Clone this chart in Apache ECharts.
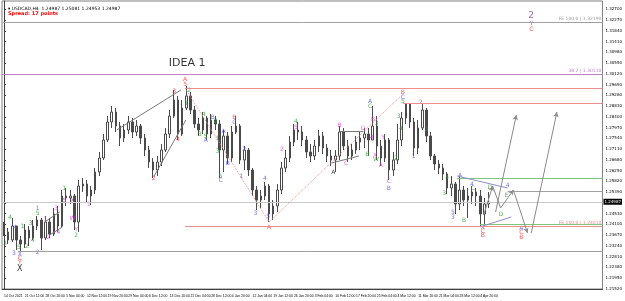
<!DOCTYPE html>
<html>
<head>
<meta charset="utf-8">
<script src="https://cdn.jsdelivr.net/npm/echarts@6/dist/echarts.min.js"></script>
<style>
html, body { margin: 0; padding: 0; background: #fff; }
#chart { width: 625px; height: 301px; }
</style>
</head>
<body>
<div id="chart"></div>
<script>
// USDCAD H4, each candle here stands in for a block of ~8 H4 bars
var xLabels = ['14 Oct 2021', '21 Oct 12:00', '28 Oct 20:00', '5 Nov 04:00', '12 Nov 12:00', '19 Nov 20:00',
  '29 Nov 04:00', '6 Dec 12:00', '13 Dec 20:00', '21 Dec 04:00', '28 Dec 12:00', '4 Jan 20:00',
  '12 Jan 04:00', '19 Jan 12:00', '26 Jan 20:00', '3 Feb 04:00', '10 Feb 12:00', '17 Feb 20:00',
  '25 Feb 04:00', '4 Mar 12:00', '11 Mar 20:00', '21 Mar 04:00', '28 Mar 12:00', '4 Apr 20:00']
var barsPerLabel = 5
var slotCount = 145

var opens = [1.2395, 1.2379, 1.2347, 1.2403, 1.2347, 1.2331, 1.2387, 1.2355, 1.2403, 1.2427,
  1.2355, 1.2419, 1.2371, 1.2451, 1.2403, 1.2523, 1.2515, 1.2523, 1.2419, 1.2563,
  1.2571, 1.2523, 1.2547, 1.2619, 1.2675, 1.2747, 1.2819, 1.2859, 1.2803, 1.2755,
  1.2787, 1.2819, 1.2779, 1.2803, 1.2755, 1.2707, 1.2659, 1.2627, 1.2659, 1.2707,
  1.2771, 1.2843, 1.2907, 1.2771, 1.2875, 1.2923, 1.2867, 1.2811, 1.2787, 1.2835,
  1.2771, 1.2827, 1.2811, 1.2707, 1.2763, 1.2675, 1.2779, 1.2803, 1.2667, 1.2707,
  1.2627, 1.2547, 1.2507, 1.2523, 1.2563, 1.2451, 1.2483, 1.2547, 1.2635, 1.2675,
  1.2739, 1.2787, 1.2779, 1.2747, 1.2699, 1.2683, 1.2723, 1.2763, 1.2715, 1.2683,
  1.2667, 1.2683, 1.2779, 1.2723, 1.2683, 1.2707, 1.2739, 1.2755, 1.2771, 1.2747,
  1.2803, 1.2723, 1.2675, 1.2747, 1.2627, 1.2667, 1.2747, 1.2835, 1.2891, 1.2819,
  1.2715, 1.2795, 1.2867, 1.2763, 1.2683, 1.2651, 1.2635, 1.2611, 1.2555, 1.2571,
  1.2491, 1.2547, 1.2507, 1.2523, 1.2539, 1.2523, 1.2451, 1.2491]
var closes = [1.2379, 1.2347, 1.2403, 1.2347, 1.2331, 1.2387, 1.2355, 1.2403, 1.2427, 1.2355,
  1.2419, 1.2371, 1.2451, 1.2403, 1.2523, 1.2515, 1.2523, 1.2419, 1.2563, 1.2571,
  1.2523, 1.2547, 1.2619, 1.2675, 1.2747, 1.2819, 1.2859, 1.2803, 1.2755, 1.2787,
  1.2819, 1.2779, 1.2803, 1.2755, 1.2707, 1.2659, 1.2627, 1.2659, 1.2707, 1.2771,
  1.2843, 1.2907, 1.2771, 1.2875, 1.2923, 1.2867, 1.2811, 1.2787, 1.2835, 1.2771,
  1.2827, 1.2811, 1.2707, 1.2763, 1.2675, 1.2779, 1.2803, 1.2667, 1.2707, 1.2627,
  1.2547, 1.2507, 1.2523, 1.2563, 1.2451, 1.2483, 1.2547, 1.2635, 1.2675, 1.2739,
  1.2787, 1.2779, 1.2747, 1.2699, 1.2683, 1.2723, 1.2763, 1.2715, 1.2683, 1.2667,
  1.2683, 1.2779, 1.2723, 1.2683, 1.2707, 1.2739, 1.2755, 1.2771, 1.2747, 1.2803,
  1.2723, 1.2675, 1.2747, 1.2627, 1.2667, 1.2747, 1.2835, 1.2891, 1.2819, 1.2715,
  1.2795, 1.2867, 1.2763, 1.2683, 1.2651, 1.2635, 1.2611, 1.2555, 1.2571, 1.2491,
  1.2547, 1.2507, 1.2523, 1.2539, 1.2523, 1.2451, 1.2491, 1.24987]
var highs = [1.2419, 1.2395, 1.2435, 1.2403, 1.2363, 1.2411, 1.2403, 1.2427, 1.2443, 1.2435,
  1.2443, 1.2435, 1.2475, 1.2483, 1.2547, 1.2555, 1.2547, 1.2531, 1.2587, 1.2595,
  1.2587, 1.2563, 1.2635, 1.2699, 1.2771, 1.2843, 1.2883, 1.2875, 1.2819, 1.2811,
  1.2843, 1.2835, 1.2827, 1.2811, 1.2771, 1.2723, 1.2675, 1.2683, 1.2731, 1.2795,
  1.2867, 1.2947, 1.2923, 1.2907, 1.2963, 1.2939, 1.2883, 1.2835, 1.2859, 1.2843,
  1.2851, 1.2843, 1.2827, 1.2787, 1.2779, 1.2803, 1.2843, 1.2811, 1.2723, 1.2715,
  1.2635, 1.2563, 1.2547, 1.2579, 1.2571, 1.2507, 1.2571, 1.2659, 1.2707, 1.2763,
  1.2811, 1.2819, 1.2803, 1.2763, 1.2731, 1.2747, 1.2787, 1.2779, 1.2731, 1.2707,
  1.2707, 1.2803, 1.2795, 1.2747, 1.2731, 1.2763, 1.2779, 1.2795, 1.2795, 1.2883,
  1.2843, 1.2747, 1.2771, 1.2755, 1.2699, 1.2811, 1.2859, 1.2895, 1.2891, 1.2835,
  1.2827, 1.2891, 1.2875, 1.2779, 1.2691, 1.2667, 1.2651, 1.2619, 1.2603, 1.2579,
  1.2603, 1.2563, 1.2555, 1.2563, 1.2555, 1.2547, 1.2515, 1.2539]
var lows = [1.2363, 1.2331, 1.2339, 1.2307, 1.2303, 1.2315, 1.2323, 1.2347, 1.2387, 1.2307,
  1.2347, 1.2355, 1.2363, 1.2379, 1.2395, 1.2483, 1.2491, 1.2387, 1.2379, 1.2539,
  1.2499, 1.2487, 1.2531, 1.2603, 1.2667, 1.2739, 1.2795, 1.2779, 1.2723, 1.2739,
  1.2771, 1.2755, 1.2763, 1.2731, 1.2683, 1.2635, 1.2595, 1.2603, 1.2643, 1.2699,
  1.2755, 1.2835, 1.2747, 1.2763, 1.2867, 1.2851, 1.2795, 1.2763, 1.2771, 1.2747,
  1.2755, 1.2787, 1.2595, 1.2619, 1.2651, 1.2659, 1.2771, 1.2651, 1.2627, 1.2603,
  1.2523, 1.2467, 1.2475, 1.2507, 1.2419, 1.2427, 1.2459, 1.2531, 1.2619, 1.2659,
  1.2723, 1.2747, 1.2723, 1.2675, 1.2659, 1.2667, 1.2699, 1.2691, 1.2659, 1.2643,
  1.2619, 1.2667, 1.2707, 1.2659, 1.2667, 1.2691, 1.2707, 1.2715, 1.2683, 1.2747,
  1.2667, 1.2643, 1.2659, 1.2587, 1.2603, 1.2651, 1.2723, 1.2811, 1.2795, 1.2683,
  1.2691, 1.2787, 1.2739, 1.2667, 1.2627, 1.2611, 1.2587, 1.2531, 1.2523, 1.2451,
  1.2467, 1.2483, 1.2435, 1.2491, 1.2483, 1.2403, 1.2411, 1.2475]

var yTicks = [1.32700, 1.32270, 1.31840, 1.31410, 1.30980, 1.30550, 1.30120, 1.29690, 1.29260,
  1.28830, 1.28400, 1.27970, 1.27540, 1.27110, 1.26680, 1.26250, 1.25820, 1.25390, 1.24960,
  1.24530, 1.24100, 1.23670, 1.23240, 1.22810, 1.22380, 1.21950, 1.21520]
var lastPrice = 1.24987

// horizontal levels: [start bar, price, caption]
var greyLevels = [[-0.5, 1.3219, 'FE 100.0 | 1.32190'], [3.3, 1.2303, ''], [121.6, 1.2543, '']]
var purpleLevels = [[-0.5, 1.3011, '38.2 | 1.30110']]
var salmonLevels = [[43.7, 1.2955, ''], [96.3, 1.2895, ''], [43.7, 1.2401, 'FE 100.0 | 1.24010']]
var greenLevels = [[109.4, 1.2595, ''], [114.9, 1.2411, '']]

// trend lines: [bar1, price1, bar2, price2]
var channelLines = [[27.2, 1.2787, 42.7, 1.2947], [36.1, 1.2599, 43.9, 1.2827],
  [9.8, 1.2419, 13.4, 1.2459], [11.0, 1.2367, 14.1, 1.2399],
  [81.0, 1.2783, 86.7, 1.2783], [79.1, 1.2655, 85.7, 1.2683]]
var dottedLines = [[43.7, 1.2955, 64.0, 1.2419], [64.0, 1.2419, 95.8, 1.2923]]
var wedgeLines = [[109.4, 1.2603, 121.6, 1.2555], [115.6, 1.2403, 122.5, 1.2439]]
var pathLines = [[118.0, 1.2563, 119.9, 1.2475]]
var arrowLines = [[115.8, 1.2447, 118.0, 1.2563], [118.7, 1.2459, 123.7, 1.2847],
  [119.9, 1.2475, 123.0, 1.2547], [123.0, 1.2547, 126.4, 1.2375], [127.3, 1.2375, 133.5, 1.2859]]

// wave labels: [bar, price, text]
var greenWaves = [[0.2, 1.2335, '3'], [1.4, 1.2439, '4'], [3.6, 1.2319, '5'], [4.5, 1.2403, '1'],
  [5.5, 1.2323, '2'], [6.4, 1.2415, '3'], [6.9, 1.2347, '4'], [8.1, 1.2455, '5'],
  [14.6, 1.2555, '1'], [17.4, 1.2367, '2'], [44.0, 1.2895, '1'], [44.7, 1.2947, '2'],
  [47.3, 1.2771, '3'], [48.2, 1.2851, '4'], [48.6, 1.2763, '5'], [51.1, 1.2823, '2'],
  [51.6, 1.2755, '1'], [51.6, 1.2703, '3'], [52.3, 1.2603, '5'], [70.5, 1.2823, '4'],
  [88.4, 1.2883, 'C'], [90.0, 1.2815, '3'], [87.7, 1.2691, 'B'], [89.8, 1.2671, 'W'],
  [94.6, 1.2675, '2'], [95.3, 1.2843, '3'], [95.8, 1.2795, '4'], [96.3, 1.2903, '5'],
  [102.0, 1.2791, '3'], [106.3, 1.2535, '3'], [107.0, 1.2599, '4'], [111.1, 1.2427, 'B'],
  [113.2, 1.2555, 'C'], [117.3, 1.2559, 'D'], [121.3, 1.2527, 'E'], [120.0, 1.2451, 'D']]
var blueWaves = [[2.6, 1.2399, '4'], [2.4, 1.2295, '3'], [3.8, 1.2291, 'X'], [8.1, 1.2475, '1'],
  [8.1, 1.2299, '2'], [48.7, 1.2747, 'A'], [50.4, 1.2839, 'B'], [53.0, 1.2783, 'A'],
  [54.0, 1.2655, 'B'], [52.3, 1.2587, 'C'], [55.6, 1.2819, 'C'], [58.0, 1.2711, '2'],
  [57.3, 1.2603, '1'], [60.7, 1.2455, '3'], [63.0, 1.2595, '4'], [63.8, 1.2443, '5'],
  [88.4, 1.2903, 'A'], [92.9, 1.2555, 'B'], [96.3, 1.2919, 'C'], [98.9, 1.2683, '1'],
  [100.6, 1.2899, '2'], [110.1, 1.2607, 'A'], [108.4, 1.2459, '5'], [108.4, 1.2439, '3'],
  [115.6, 1.2399, 'X'], [113.0, 1.2571, '4'], [121.6, 1.2567, '4'], [124.9, 1.2395, 'A']]
var redWaves = [[3.8, 1.2275, 'C'], [3.8, 1.2259, 'Y'], [36.1, 1.2595, '2'], [41.1, 1.2943, '3'],
  [42.0, 1.2751, '4'], [43.7, 1.2991, 'A'], [43.7, 1.2969, '5'], [55.6, 1.2839, 'B'],
  [64.0, 1.2399, 'A'], [96.3, 1.2939, 'B'], [115.6, 1.2383, 'C'], [115.6, 1.2365, 'B'],
  [124.9, 1.2377, 'C'], [124.9, 1.2359, 'B'], [127.3, 1.3191, 'C']]
var pinkWaves = [[10.0, 1.2431, '1'], [10.7, 1.2359, '2'], [12.6, 1.2475, '3'], [13.1, 1.2379, '4'],
  [14.6, 1.2507, '5'], [16.5, 1.2507, 'X'], [16.5, 1.2435, 'W'], [17.4, 1.2391, 'Y'],
  [20.5, 1.2491, '1'], [67.1, 1.2711, '2'], [70.5, 1.2799, '5'], [81.0, 1.2807, 'B'],
  [82.6, 1.2655, 'C'], [86.7, 1.2795, 'D'], [89.1, 1.2831, 'B'], [88.8, 1.2759, '4'],
  [89.6, 1.2687, 'X'], [91.0, 1.2647, 'A'], [91.5, 1.2759, 'Y'], [92.9, 1.2583, 'C']]
var blackWaves = [[79.5, 1.2619, 'A']]
var bigBlack = [[3.8, 1.2233, 'X']]
var purpleWaves = [[127.3, 1.3215, 'Y']]
var bigPurple = [[127.3, 1.3245, '2']]
var captions = [[44.2, 1.3055, 'IDEA 1']]

var categories = []
for (var i = 0; i < slotCount; i++) {
  categories.push(i % barsPerLabel === 0 && xLabels[i / barsPerLabel] ? xLabels[i / barsPerLabel] : '')
}
var candles = opens.map(function (o, i) { return [o, closes[i], lows[i], highs[i]] })

var font = 'DejaVu Sans'

function levelLines (list, color) {
  return list.map(function (l) {
    return [{
      coord: [l[0], l[1]],
      lineStyle: { color: color, width: 1, type: 'solid' },
      label: {
        show: l[2] !== '', formatter: l[2], position: 'insideEndTop',
        color: color, fontSize: 4.5, fontFamily: font, distance: 1
      }
    }, { coord: [144.5, l[1]] }]
  })
}
function segLines (list, color, type, arrow) {
  return list.map(function (l) {
    return [{
      coord: [l[0], l[1]],
      lineStyle: { color: color, width: 1, type: type },
      symbol: 'none'
    }, { coord: [l[2], l[3]], symbol: arrow ? 'arrow' : 'none', symbolSize: [4, 5] }]
  })
}
function waveSeries (list, color, size, lines) {
  return {
    type: 'scatter',
    xAxisIndex: 1,
    yAxisIndex: 0,
    symbolSize: 0,
    silent: true,
    data: list,
    label: {
      show: true,
      position: 'inside',
      formatter: function (p) { return p.data[2] },
      color: color,
      fontSize: size,
      fontFamily: font
    },
    markLine: lines ? { silent: true, symbol: 'none', label: { show: false }, data: lines } : undefined
  }
}

var chart = echarts.init(document.getElementById('chart'))
chart.setOption({
  animation: false,
  backgroundColor: '#ffffff',
  title: [
    { text: '\u25BE USDCAD,H4  1.24987 1.25081 1.24953 1.24987', left: 3, top: 1,
      textStyle: { fontSize: 4.5, fontWeight: 'normal', color: '#000', fontFamily: font } },
    { text: 'Spread: 17 points', left: 3, top: 6,
      textStyle: { fontSize: 5, fontWeight: 'bold', color: '#ff0000', fontFamily: font } }
  ],
  grid: { left: 2, right: 16, top: 1, bottom: 12, show: true, borderColor: '#808080', borderWidth: 1 },
  xAxis: [{
    type: 'category',
    data: categories,
    boundaryGap: true,
    axisLine: { lineStyle: { color: '#404040' } },
    axisTick: { interval: barsPerLabel - 1, length: 2, lineStyle: { color: '#404040' } },
    axisLabel: {
      interval: barsPerLabel - 1, showMinLabel: true, hideOverlap: false, align: 'left',
      fontSize: 3.4, margin: 6, color: '#000', fontFamily: 'Liberation Sans'
    },
    splitLine: { show: false }
  }, {
    type: 'value',
    min: -0.5,
    max: slotCount - 0.5,
    show: false
  }],
  yAxis: {
    type: 'value',
    position: 'right',
    min: 1.2151,
    max: 1.3303,
    scale: true,
    axisLine: { show: true, lineStyle: { color: '#404040' } },
    axisTick: { show: true, customValues: yTicks, length: 2 },
    axisLabel: {
      customValues: yTicks, fontSize: 4, margin: 3, color: '#000', fontFamily: font,
      formatter: function (v) { return v.toFixed(5) }
    },
    splitLine: { show: false }
  },
  series: [
    {
      type: 'candlestick',
      data: candles,
      barWidth: 2,
      itemStyle: {
        color: '#ffffff', borderColor: '#4a4a4a',
        color0: '#4a4a4a', borderColor0: '#4a4a4a', borderWidth: 1
      },
      markLine: {
        silent: true,
        symbol: 'none',
        data: [{
          yAxis: lastPrice,
          lineStyle: { color: '#c8c8c8', width: 1, type: 'solid' },
          label: {
            show: true, position: 'end', formatter: lastPrice.toFixed(5), distance: 1,
            backgroundColor: '#000', color: '#fff', fontSize: 4, padding: [1, 1], fontFamily: font
          }
        }]
      }
    },
    waveSeries(greenWaves, '#2ca02c', 6,
      levelLines(greyLevels, '#a0a0a0').concat(levelLines(greenLevels, '#7cc67c'))),
    waveSeries(blueWaves, '#5050ff', 6,
      segLines(wedgeLines, '#8c8cd0', 'solid', false)),
    waveSeries(redWaves, '#ff3030', 6,
      levelLines(salmonLevels, '#f08c8c').concat(segLines(dottedLines, '#f08c8c', 'dotted', false))),
    waveSeries(pinkWaves, '#e040e0', 6,
      levelLines(purpleLevels, '#c080c8').concat(segLines(channelLines, '#7a7a7a', 'solid', false))),
    waveSeries(blackWaves, '#000000', 6,
      segLines(pathLines, '#8a8a8a', 'solid', false).concat(segLines(arrowLines, '#8a8a8a', 'solid', true))),
    waveSeries(bigBlack, '#000000', 8),
    waveSeries(purpleWaves, '#a040a0', 6),
    waveSeries(bigPurple, '#a040a0', 9),
    waveSeries(captions, '#000000', 11)
  ]
})
</script>
</body>
</html>
